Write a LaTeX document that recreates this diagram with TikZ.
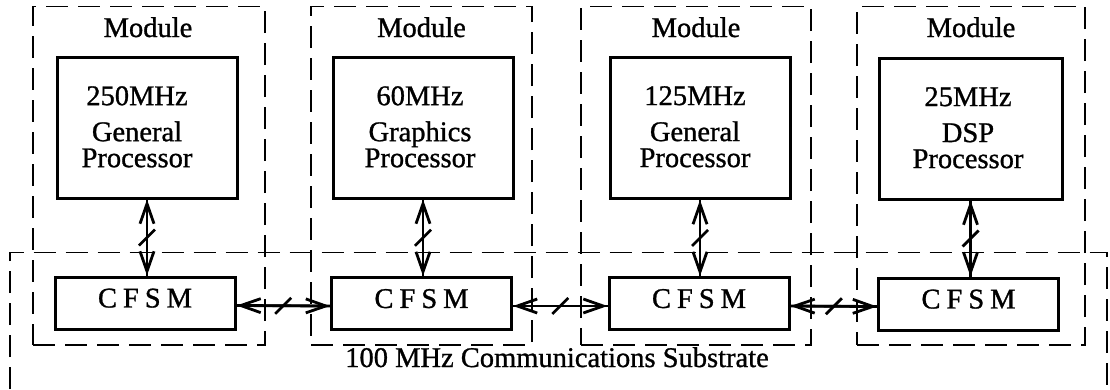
\documentclass[tikz,border=0pt]{standalone}
\usepackage{fontspec}
\setmainfont{Liberation Serif}[FakeBold=1]
\usetikzlibrary{arrows.meta,calc}
\begin{document}
\begin{tikzpicture}[x=1pt,y=-1pt,
  bigfont/.style={font=\fontsize{28.5}{26}\selectfont},
  modbox/.style={draw, line width=1.3pt, dash pattern=on 22pt off 10pt, inner sep=0pt, minimum height=338.5pt},
  subbox/.style={line width=1.3pt, dash pattern=on 22pt off 10pt},
  procbox/.style={draw, line width=3pt, inner sep=0pt, minimum width=180pt, minimum height=141pt},
  proctext/.style={bigfont, align=center, inner sep=0pt, anchor=north},
  cfsmbox/.style={draw, line width=3pt, inner sep=0pt, minimum width=180pt, minimum height=52pt, bigfont, text depth=10pt},
  lbl/.style={bigfont, inner sep=0pt, anchor=base},
  link/.style={line width=2.8pt, {Straight Barb[length=20pt,width=14pt]}-{Straight Barb[length=20pt,width=14pt]}},
  shaft/.style={line width=2.6pt},
  slash/.style={line width=2.8pt}
]
\useasboundingbox (0,0) rectangle (1110,389);

% substrate (open at the bottom, continues below the picture)
\coordinate (sbl) at (10,389);
\coordinate (stl) at (10,252.5);
\coordinate (str) at (1107,252.5);
\coordinate (sbr) at (1107,389);
\draw[subbox] (sbl) -- (stl) -- (str) -- (sbr);

% modules
\node[modbox, minimum width=232pt] (m1) at (149,175.75) {};
\node[modbox, minimum width=221pt] (m2) at (421.5,175.75) {};
\node[modbox, minimum width=230pt] (m3) at (696,175.75) {};
\node[modbox, minimum width=228pt] (m4) at (971,175.75) {};

\node[lbl] (ml1) at (148,37) {Module};
\node[lbl] (ml2) at (421.5,37) {Module};
\node[lbl] (ml3) at (696,37) {Module};
\node[lbl] (ml4) at (971,37) {Module};

% processors
\node[procbox] (p1) at (147,127.5) {};
\node[procbox] (p2) at (423,127.5) {};
\node[procbox] (p3) at (700,128) {};
\node[procbox, minimum width=183pt] (p4) at (970.5,128.5) {};

\node[proctext] (t1) at (137,86) {250MHz\\[10pt]General\\Processor};
\node[proctext] (t2) at (420,86) {60MHz\\[10pt]Graphics\\Processor};
\node[proctext] (t3) at (695,86) {125MHz\\[10pt]General\\Processor};
\node[proctext] (t4) at (968,87) {25MHz\\[10pt]DSP\\Processor};

% CFSMs
\newcommand{\cfsmtext}{C\hspace{6pt}F\hspace{6pt}S\hspace{6pt}M}
\node[cfsmbox] (c1) at (145,303) {\cfsmtext};
\node[cfsmbox] (c2) at (421.5,303.5) {\cfsmtext};
\node[cfsmbox] (c3) at (699,303.5) {\cfsmtext};
\node[cfsmbox] (c4) at (968.5,304) {\cfsmtext};

% vertical links (shaft to the tips, plus barbs)
\foreach \i in {1,2,3,4} {
  \draw[shaft] (p\i.south) -- (p\i.south |- c\i.north);
  \draw[link] (p\i.south) -- node[midway, inner sep=0pt] (v\i) {} (p\i.south |- c\i.north);
}

% horizontal links
\foreach \i/\j in {1/2,2/3,3/4} {
  \draw[shaft] ([yshift=-2.5pt]c\i.east) -- ([yshift=-2.5pt]c\j.west);
  \draw[link] ([yshift=-2.5pt]c\i.east) -- node[midway, inner sep=0pt] (h\i) {} ([yshift=-2.5pt]c\j.west);
}

% bus-width slashes
\foreach \s in {v1,v2,v3,v4,h1,h2,h3}
  \draw[slash] ($(\s)+(-8,8)$) -- ($(\s)+(8,-8)$);

% substrate label
\node[lbl] (sl) at (557,367) {100 MHz Communications Substrate};
\end{tikzpicture}
\end{document}
